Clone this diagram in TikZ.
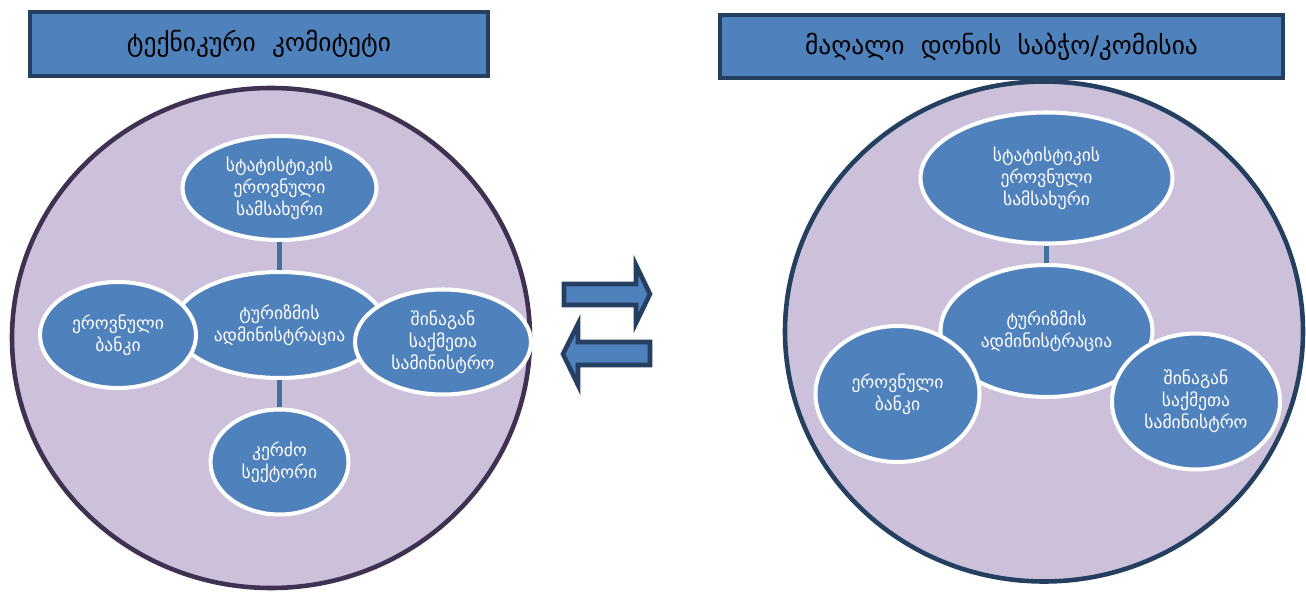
\documentclass[tikz,border=0pt]{standalone}
\usepackage{fontspec}
\setmainfont{DejaVu Sans}
\usepackage{tikz}
\usetikzlibrary{shapes.geometric}
\definecolor{fillblue}{HTML}{4F81BD}
\definecolor{navy}{HTML}{243F60}
\definecolor{lilac}{HTML}{CCC0DA}
\definecolor{plum}{HTML}{3F3151}
\definecolor{linkblue}{HTML}{41719C}
\tikzset{
  title/.style={draw=navy, fill=fillblue, line width=2.8pt, text=black, font=\fontsize{14.5}{17}\selectfont, inner sep=0pt},
  ring/.style={fill=lilac, line width=2.6pt},
  unit/.style={ellipse, draw=white, fill=fillblue, line width=2.3pt, text=white, align=center, inner sep=0pt, font=\fontsize{10}{12.5}\selectfont},
  link/.style={draw=linkblue, line width=2.8pt},
  flow/.style={draw=navy, fill=fillblue, line width=2.6pt, line join=miter},
}

\begin{document}
\begin{tikzpicture}
  \useasboundingbox (0,0) rectangle (26.12,-11.84);
  \draw[ring, draw=plum] (5.42,-6.76) ellipse [x radius=5.18, y radius=5.0];
  \draw[ring, draw=navy] (20.88,-6.63) ellipse [x radius=5.18, y radius=5.0];
  \node[title, minimum width=9.16cm, minimum height=1.28cm] (techTitle) at (5.18,-0.88) {ტექნიკური~~კომიტეტი};
  \node[title, minimum width=11.26cm, minimum height=1.26cm] (highTitle) at (20.03,-0.93) {მაღალი~~დონის~~საბჭო/კომისია};

  \node[unit, minimum width=4.2cm, minimum height=2.12cm] (tourL) at (5.59,-6.5) {ტურიზმის\\ადმინისტრაცია};
  \node[unit, minimum width=3.88cm, minimum height=2.08cm] (statL) at (5.59,-3.76) {სტატისტიკის\\ეროვნული\\სამსახური};
  \node[unit, minimum width=2.76cm, minimum height=2.1cm] (privL) at (5.59,-9.24) {კერძო\\სექტორი};
  \node[unit, minimum width=3.12cm, minimum height=2.12cm] (bankL) at (2.36,-6.7) {ეროვნული\\ბანკი};
  \node[unit, minimum width=3.52cm, minimum height=2.1cm] (minL) at (8.86,-6.84) {შინაგან\\საქმეთა\\სამინისტრო};
  \draw[link] (statL.south) -- (tourL.north);
  \draw[link] (tourL.south) -- (privL.north);

  \node[unit, minimum width=4.24cm, minimum height=2.64cm] (tourR) at (20.93,-6.62) {ტურიზმის\\ადმინისტრაცია};
  \node[unit, minimum width=5.04cm, minimum height=2.62cm] (statR) at (20.93,-3.56) {სტატისტიკის\\ეროვნული\\სამსახური};
  \node[unit, minimum width=3.28cm, minimum height=2.72cm] (bankR) at (17.95,-7.88) {ეროვნული\\ბანკი};
  \node[unit, minimum width=3.36cm, minimum height=2.72cm] (minR) at (23.92,-8.03) {შინაგან\\საქმეთა\\სამინისტრო};
  \draw[link] (statR.south) -- (tourR.north);

  \draw[flow] (11.28,-5.68) -- (12.72,-5.68) -- (12.72,-5.3) -- (13.0,-5.88) -- (12.72,-6.46) -- (12.72,-6.1) -- (11.28,-6.1) -- cycle;
  \draw[flow] (13.0,-6.84) -- (11.56,-6.84) -- (11.56,-6.48) -- (11.26,-7.08) -- (11.56,-7.7) -- (11.56,-7.3) -- (13.0,-7.3) -- cycle;
\end{tikzpicture}
\end{document}
